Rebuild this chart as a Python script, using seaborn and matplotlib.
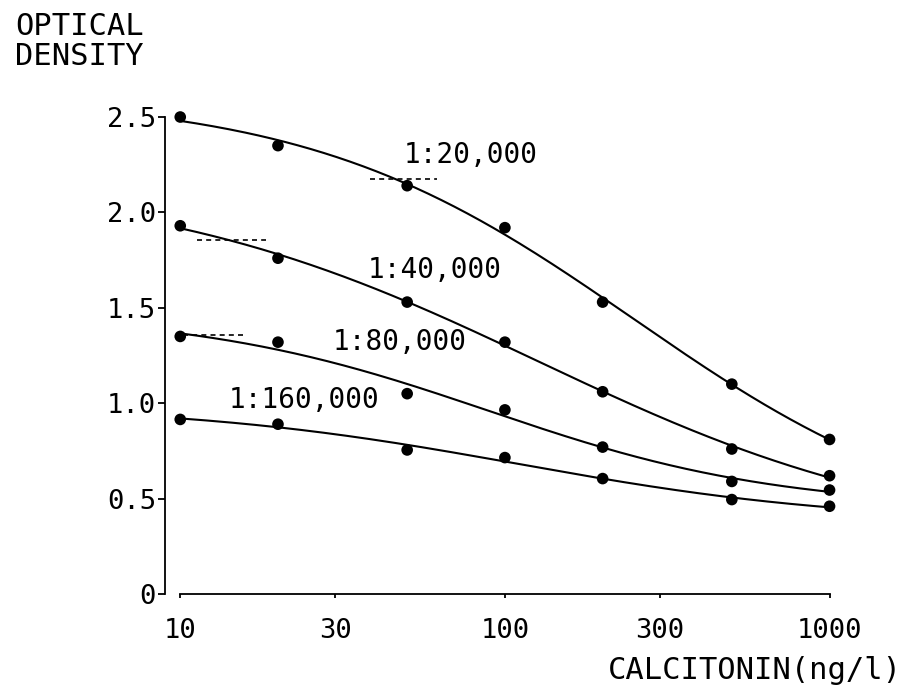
import numpy as np
import pandas as pd
import matplotlib
matplotlib.use('Agg')
import matplotlib.pyplot as plt
import seaborn as sns

# calcitonin concentration (ng/l) and optical density per antiserum dilution
conc = [10, 20, 50, 100, 200, 500, 1000]
od_20k = [2.50, 2.35, 2.14, 1.92, 1.53, 1.10, 0.81]
od_40k = [1.93, 1.76, 1.53, 1.32, 1.06, 0.76, 0.62]
od_80k = [1.35, 1.32, 1.05, 0.965, 0.77, 0.59, 0.545]
od_160k = [0.915, 0.89, 0.755, 0.715, 0.605, 0.495, 0.46]
dilutions = ['1:20,000', '1:40,000', '1:80,000', '1:160,000']

# short dashed reference marks (x start, x end, level)
dash_x0 = [38.3, 11.3, 10.2]
dash_x1 = [61.7, 18.4, 15.6]
dash_y = [2.175, 1.855, 1.36]

y_ticks = [0, 0.5, 1.0, 1.5, 2.0, 2.5]
y_ticklabels = ['0', '0.5', '1.0', '1.5', '2.0', '2.5']
x_ticks = [10, 30, 100, 300, 1000]
x_ticklabels = ['10', '30', '100', '300', '1000']

MONO = 'DejaVu Sans Mono'


def logistic(p, lx):
    # four parameter logistic: top, bottom, log10 midpoint, slope
    return p[1] + (p[0] - p[1]) / (1 + 10 ** (p[3] * (lx - p[2])))


def fit_logistic(x, y, iters=300):
    lx = np.log10(np.asarray(x, float))
    y = np.asarray(y, float)
    p = np.array([y[0] + 0.05, y[-1] - 0.1, lx.mean(), 1.0])
    lam = 1e-2
    for _ in range(iters):
        r = y - logistic(p, lx)
        J = np.empty((len(lx), 4))
        for k in range(4):
            dp = np.zeros(4)
            dp[k] = 1e-6
            J[:, k] = (logistic(p + dp, lx) - logistic(p - dp, lx)) / 2e-6
        A = J.T @ J
        step = np.linalg.solve(A + lam * np.diag(np.diag(A)) + 1e-12 * np.eye(4), J.T @ r)
        if ((y - logistic(p + step, lx)) ** 2).sum() < (r ** 2).sum():
            p = p + step
            lam *= 0.3
        else:
            lam *= 10
    return p


def build_frames():
    series = [od_20k, od_40k, od_80k, od_160k]
    points = pd.DataFrame({
        'conc': conc * len(series),
        'od': [v for s in series for v in s],
        'dilution': [d for d in dilutions for _ in conc],
    })
    xs = np.geomspace(conc[0], conc[-1], 200)
    curves = []
    for name, s in zip(dilutions, series):
        p = fit_logistic(conc, s)
        curves.append(pd.DataFrame({'conc': xs, 'od': logistic(p, np.log10(xs)), 'dilution': name}))
    return points, pd.concat(curves)


def plot_data(points, curves):
    sns.set_style('ticks')
    plt.rcParams['font.family'] = [MONO, 'DejaVu Sans']
    plt.rcParams['text.color'] = 'black'
    plt.rcParams['xtick.color'] = 'black'
    plt.rcParams['ytick.color'] = 'black'
    plt.rcParams['axes.edgecolor'] = 'black'
    fig = plt.figure(figsize=(9.11, 6.99), dpi=100)
    ax = fig.add_axes([0.1811, 0.1502, 0.7295, 0.6824])
    pal = {d: 'black' for d in dilutions}

    sns.lineplot(data=curves, x='conc', y='od', hue='dilution', palette=pal,
                 linewidth=1.5, legend=False, ax=ax, sort=False, estimator=None)
    sns.scatterplot(data=points, x='conc', y='od', hue='dilution', palette=pal,
                    s=70, edgecolor='black', linewidth=0, legend=False, ax=ax, clip_on=False, zorder=3)
    ax.hlines(dash_y, dash_x0, dash_x1, colors='black', linewidth=1.2, linestyles=(0, (3, 2.5)))

    ax.set_xscale('log')
    ax.set_xlim(10 ** 0.953, 10 ** 2.03)
    ax.set_ylim(0, 2.5)
    ax.set_xticks(x_ticks)
    ax.set_xticklabels(x_ticklabels)
    ax.xaxis.set_minor_locator(matplotlib.ticker.NullLocator())
    ax.set_yticks(y_ticks)
    ax.set_yticklabels(y_ticklabels)
    ax.tick_params(axis='x', direction='out', length=3, width=1.3, pad=14, labelsize=19.5, colors='black')
    ax.tick_params(axis='y', direction='out', length=5, width=1.3, pad=1.5, labelsize=19.5, colors='black')

    for side in ['top', 'right']:
        ax.spines[side].set_visible(False)
    ax.spines['left'].set_bounds(0, 2.5)
    ax.spines['bottom'].set_bounds(10, 1000)
    ax.spines['left'].set_linewidth(1.3)
    ax.spines['bottom'].set_linewidth(1.3)
    ax.set_xlabel('')
    ax.set_ylabel('')

    label_pos = [(48.7, 2.30), (37.8, 1.70), (29.4, 1.32), (14.1, 1.017)]
    for name, (lx, ly) in zip(dilutions, label_pos):
        ax.text(lx, ly, name, fontsize=20, ha='left', va='center', color='black')

    fig.text(15 / 911, 1 - 12 / 699, 'OPTICAL\nDENSITY', fontsize=22, ha='left', va='top',
             linespacing=1.05, color='black')
    fig.text(902 / 911, 1 - 679 / 699, 'CALCITONIN(ng/l)', fontsize=22, ha='right', va='baseline',
             color='black')
    return fig


def main():
    points, curves = build_frames()
    fig = plot_data(points, curves)
    fig.savefig('out.png', dpi=100)


if __name__ == '__main__':
    main()
